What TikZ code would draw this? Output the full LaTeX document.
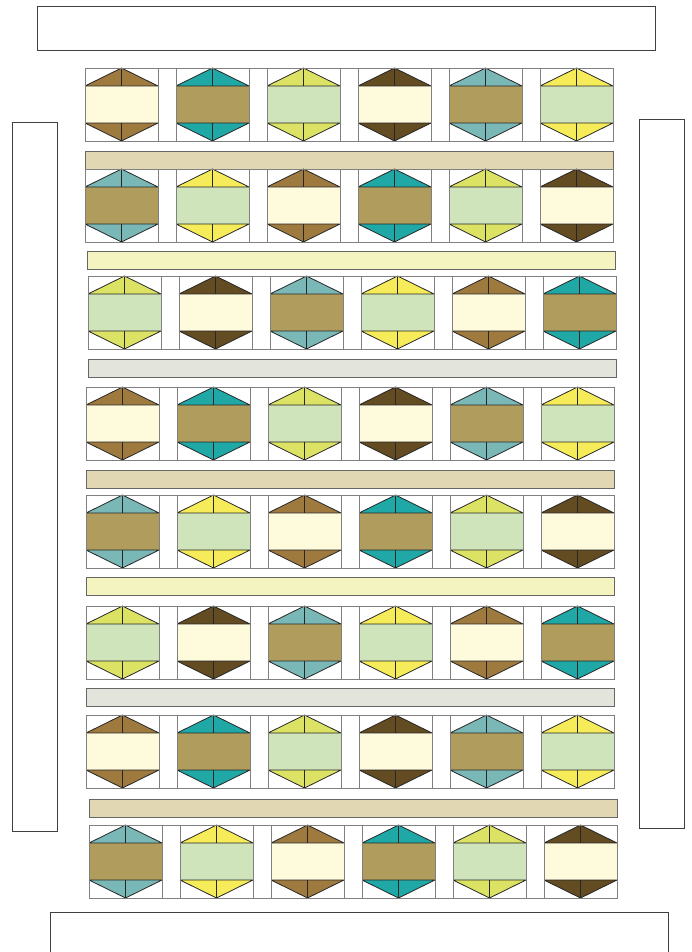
\documentclass[tikz,border=0pt]{standalone}
\usepackage{tikz}

% triangle colours (index 0..5) and centre colours (index 0..2)
\definecolor{tri0}{HTML}{9E7A3F}
\definecolor{tri1}{HTML}{20A8A6}
\definecolor{tri2}{HTML}{DCE264}
\definecolor{tri3}{HTML}{634B22}
\definecolor{tri4}{HTML}{79B8B6}
\definecolor{tri5}{HTML}{F6EC5A}
\definecolor{mid0}{HTML}{FEFADC}
\definecolor{mid1}{HTML}{B09D5D}
\definecolor{mid2}{HTML}{CFE4BB}
\definecolor{bandtan}{HTML}{E1D7B3}
\definecolor{bandpale}{HTML}{F4F4C1}
\definecolor{bandgrey}{HTML}{E3E5DD}

\begin{document}
\begin{tikzpicture}[x=1pt, y=-1pt,
  frame/.style={draw=black!75, line width=0.9pt},
  cell/.style={draw=black!50, line width=0.9pt},
  seam/.style={draw=black!85, line width=0.8pt},
  band/.style={draw=black!60, line width=0.9pt}
]
  \useasboundingbox (0,0) rectangle (691,952);

  % border pieces round the quilt
  \draw[frame] (37,6) rectangle (655,50);
  \draw[frame] (12,122) rectangle (57,831);
  \draw[frame] (639,119) rectangle (684,828);
  \draw[frame] (50,954) |- (668,912) -- (668,954);

  % sashing strips between the block rows
  \foreach \x/\y/\c in {85/151/bandtan, 87/251/bandpale, 88/359/bandgrey,
                        86/470/bandtan, 86/577/bandpale, 86/688/bandgrey,
                        89/799/bandtan}
    \draw[band, fill=\c] (\x,\y) rectangle ++(528,18);

  % block rows: six hexagon blocks each, colours shift by two per row
  \foreach \r/\x/\y in {0/85/68, 1/85/169, 2/88/276, 3/86/387,
                        4/86/495, 5/86/606, 6/86/715, 7/89/825} {
    \foreach \k in {0,...,5} {
      \pgfmathtruncatemacro\idx{mod(\k-2*\r+18,6)}
      \pgfmathtruncatemacro\m{mod(\idx,3)}
      \pgfmathsetmacro\bx{\x+91*\k}
      \fill[tri\idx] (\bx,\y+18) -- (\bx+36.5,\y) -- (\bx+73,\y+18) -- cycle;
      \fill[tri\idx] (\bx,\y+55) -- (\bx+36.5,\y+73) -- (\bx+73,\y+55) -- cycle;
      \fill[mid\m] (\bx,\y+18) rectangle (\bx+73,\y+55);
      \draw[seam] (\bx,\y+18) -- (\bx+36.5,\y) -- (\bx+73,\y+18)
                  (\bx,\y+55) -- (\bx+36.5,\y+73) -- (\bx+73,\y+55)
                  (\bx,\y+18) -- (\bx+73,\y+18)
                  (\bx,\y+55) -- (\bx+73,\y+55)
                  (\bx+36.5,\y) -- (\bx+36.5,\y+18)
                  (\bx+36.5,\y+55) -- (\bx+36.5,\y+73);
      \draw[cell] (\bx,\y) rectangle ++(73,73);
      \ifnum\k<5 \draw[cell] (\bx+73,\y) rectangle ++(18,73); \fi
    }
  }
\end{tikzpicture}
\end{document}
